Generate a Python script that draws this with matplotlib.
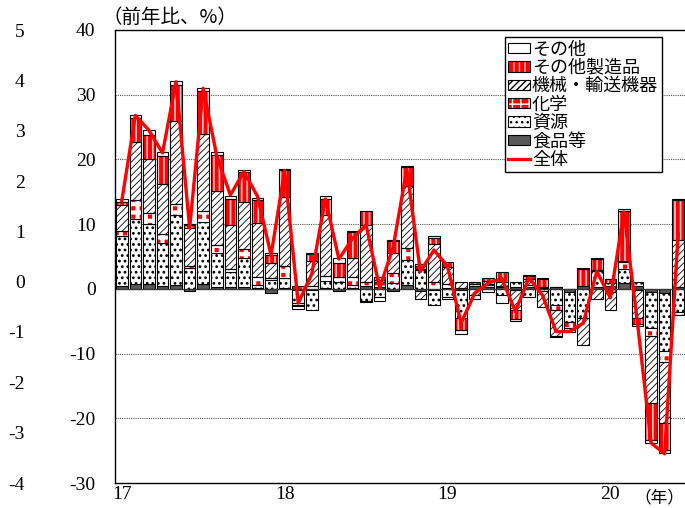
import numpy as np
import matplotlib
matplotlib.use("Agg")
import matplotlib.pyplot as plt
from matplotlib.patches import Patch
from matplotlib.lines import Line2D

# 2017年1月～2020年6月 (前年比、%)
food = [0.4, 0.7, 0.7, 0.5, 0.6, -0.3, 0.7, 0.3, 0.3, 0.3, 0.2, -0.6,
        0.1, -0.2, -0.2, 0.2, -0.3, 0.2, 0.4, 0.3, -0.3, 0.6, -0.3, -0.2,
        0.2, -0.2, 0.5, 0.3, 0.3, 0.3, 0.3, 0.2, 0.3, -0.5, 0.4, 0.3,
        0.4, 0.9, 0.5, -0.5, -0.7, 0.3]
shigen = [7.7, 10.1, 9.3, 6.6, 10.8, 3.2, 9.7, 5.2, 2.3, 4.4, 0.4, 1.4,
          1.6, -2.0, -3.0, 1.0, 1.0, 0.4, -1.9, -1.2, 0.9, 3.8, 2.9, -2.3,
          -1.3, -4.3, 0.2, 0.3, -1.0, 0.8, -1.2, -0.3, -2.5, -4.6, -4.5, 2.4,
          0.5, 2.1, 0.5, -5.5, -8.9, -3.5]
kagaku = [0.9, 3.0, 1.7, 1.4, 1.7, 0.3, 1.6, 1.3, 0.4, 1.5, 1.3, 0.3,
          1.8, -0.3, 0.4, 0.8, 0.8, 1.3, 0.7, 0.7, 1.5, 1.9, 0.2, 1.1,
          0.5, 0.1, 0.1, 0.2, 0.2, -0.2, 0.3, 0.1, -0.7, -0.9, 0.1, 0.2,
          -0.5, 1.1, -0.2, -1.3, -1.7, -0.5]
kikai = [4.0, 8.9, 8.3, 7.7, 12.9, 5.9, 11.9, 8.3, 6.9, 7.2, 8.2, 2.3,
         10.7, -0.2, 3.9, 9.4, 0.0, 2.9, 8.8, 0.3, 3.1, 9.6, -1.2, 5.8,
         2.7, 1.0, -1.0, 0.4, 0.5, -3.0, 1.0, -2.5, -4.1, -0.4, -4.1, -1.6,
         -2.8, 0.2, -4.3, -10.4, -9.4, 7.3]
seizo = [0.4, 3.7, 3.8, 4.4, 5.5, 0.4, 6.7, 5.6, 4.0, 4.6, 3.7, 1.2,
         4.1, 0.5, 1.1, 2.5, 2.2, 4.0, 2.1, 0.5, 1.9, 2.9, 0.5, 1.0,
         0.7, -1.8, 0.3, 0.5, 1.6, -1.5, 0.4, 1.3, 0.0, 0.0, 2.6, 1.7,
         0.6, 7.7, -1.0, -5.6, -4.2, 6.2]
sonota = [0.5, 0.5, 0.7, 0.5, 0.6, 0.2, 0.5, 0.5, 0.4, 0.3, 0.3, 0.3,
          0.2, -0.4, 0.2, 0.4, 0.8, 0.2, -0.1, -0.7, 0.2, 0.2, 0.2, 0.2,
          -0.2, -0.7, -0.6, -0.5, -1.2, -0.2, 0.1, 0.1, -0.1, -0.3, 0.1, 0.1,
          0.1, 0.3, -0.2, -0.5, -0.4, 0.1]
zentai = [13.6, 26.8, 24.5, 21.0, 32.0, 9.4, 31.0, 20.5, 14.5, 18.1, 14.3, 5.2,
          18.3, -2.2, 2.3, 13.9, 4.6, 7.8, 9.9, 0.1, 6.5, 18.5, 2.7, 6.0,
          3.5, -5.3, -0.7, 0.9, 1.6, -3.5, 1.7, -1.0, -6.6, -6.6, -5.3, 2.7,
          -1.4, 11.9, -5.3, -23.8, -25.5, 8.5]

year_labels = ["17", "18", "19", "20"]
left_ticks = [40, 30, 20, 10, 0, -10, -20, -30]
outer_ticks = [5, 4, 3, 2, 1, 0, -1, -2, -3, -4]

serif = "Liberation Serif"
jp = ["Noto Sans CJK JP", "DejaVu Sans"]

n = len(zentai)
x = np.arange(n)
w = 0.86

fig = plt.figure(figsize=(6.85, 5.08), dpi=100)
L, B = 115 / 685, 25 / 508
ax = fig.add_axes([L, B, 1.0 - L, 453 / 508])

pos = np.zeros(n)
neg = np.zeros(n)


def stack(vals, face, hatch=None, hcol="black", hlw=0.8):
    global pos, neg
    v = np.array(vals, dtype=float)
    bot = np.where(v >= 0, pos, neg)
    if hatch is not None and hcol != "black":
        # under-layer carries coloured hatch, top layer draws the black outline
        b1 = ax.bar(x, v, w, bottom=bot, color=face, edgecolor=hcol, hatch=hatch,
                    linewidth=0, zorder=2)
        for p in b1:
            if hasattr(p, "set_hatch_linewidth"):
                p.set_hatch_linewidth(hlw)
        ax.bar(x, v, w, bottom=bot, fill=False, edgecolor="black", linewidth=0.8, zorder=2.1)
    else:
        b1 = ax.bar(x, v, w, bottom=bot, color=face, edgecolor="black", hatch=hatch,
                    linewidth=0.8, zorder=2)
        for p in b1:
            if hasattr(p, "set_hatch_linewidth"):
                p.set_hatch_linewidth(hlw)
    pos = pos + np.where(v >= 0, v, 0)
    neg = neg + np.where(v < 0, v, 0)


RED = "#ff0000"
stack(food, "#595959")
stack(shigen, "white", "...", hlw=1.2)
stack(kagaku, RED, "++", hcol="white", hlw=3.0)
stack(kikai, "white", "/////", hlw=0.6)
stack(seizo, RED, "|||", hcol="#ffc8c8", hlw=1.2)
stack(sonota, "white")

ax.plot(x, zentai, color=RED, linewidth=2.4, zorder=5)
ax.axhline(0, color="#333333", linewidth=0.9, zorder=2.5)

ax.set_xlim(-0.5, 41.5)
ax.set_ylim(-30, 40)
ax.set_yticks(left_ticks)
ax.set_yticklabels([str(t) for t in left_ticks], fontfamily=serif, fontsize=14)
ax.set_xticks([0, 12, 24, 36])
ax.set_xticklabels(year_labels, fontfamily=serif, fontsize=14)
ax.tick_params(axis="y", length=0, pad=14)
ax.tick_params(axis="x", length=0, pad=2)
for t in [30, 20, 10, -10, -20]:
    ax.axhline(t, color="#555555", linewidth=0.8, linestyle=(0, (1, 1)), zorder=0.5)
ax.spines["right"].set_visible(False)
for s in ["left", "top", "bottom"]:
    ax.spines[s].set_linewidth(1.0)
    ax.spines[s].set_color("black")

# outer scale on the far left
ax2 = fig.add_axes([L, B, 1.0 - L, 453 / 508], frameon=False)
ax2.set_ylim(-4, 5)
ax2.set_yticks(outer_ticks)
ax2.set_yticklabels([str(t) for t in outer_ticks], fontfamily=serif, fontsize=14)
ax2.tick_params(axis="y", length=0, pad=65)
ax2.set_xticks([])
ax2.patch.set_visible(False)

fig.text(102 / 685, 1 - 17 / 508, "（前年比、%）", family=jp, fontsize=14,
         ha="left", va="center")
fig.text(684 / 685, 1 - 498 / 508, "（年）", family=jp, fontsize=12,
         ha="right", va="center")

outline = Patch(facecolor="none", edgecolor="black", linewidth=0.8)
handles = [
    Patch(facecolor="white", edgecolor="black", linewidth=0.8),
    (Patch(facecolor=RED, edgecolor="#ffc8c8", hatch="|||", linewidth=0), outline),
    Patch(facecolor="white", edgecolor="black", hatch="/////", linewidth=0.8),
    (Patch(facecolor=RED, edgecolor="white", hatch="++", linewidth=0), outline),
    Patch(facecolor="white", edgecolor="black", hatch="...", linewidth=0.8),
    Patch(facecolor="#595959", edgecolor="black", linewidth=0.8),
    Line2D([], [], color=RED, linewidth=2.4),
]
labels = ["その他", "その他製造品", "機械・輸送機器", "化学", "資源", "食品等", "全体"]
leg = ax.legend(handles, labels, loc="upper left", bbox_to_anchor=(0.684, 0.985),
                borderaxespad=0, prop={"family": jp, "size": 13}, fancybox=False,
                edgecolor="black", framealpha=1, handlelength=1.2, handleheight=0.5,
                handletextpad=0.1, labelspacing=0.02, borderpad=0.2)
leg.get_frame().set_linewidth(1.0)
leg.set_zorder(10)

fig.savefig("out.png", dpi=100)
